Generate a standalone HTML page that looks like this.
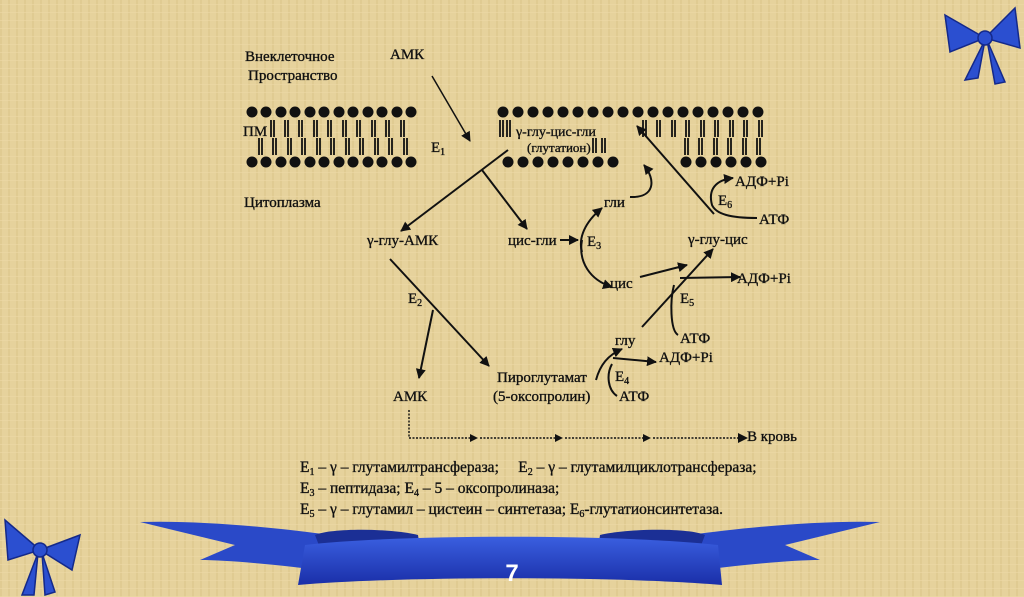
<!DOCTYPE html>
<html><head><meta charset="utf-8">
<style>
html,body{margin:0;padding:0;}
body{width:1024px;height:597px;overflow:hidden;background:#e5d19b;}
svg{display:block;}
text{font-family:"Liberation Serif",serif;fill:#111;stroke:#111;stroke-width:0.35;white-space:pre;}
</style></head><body>
<svg width="1024" height="597" viewBox="0 0 1024 597" xmlns="http://www.w3.org/2000/svg">
<defs>
<pattern id="tex" width="8" height="8" patternUnits="userSpaceOnUse">
<rect width="8" height="8" fill="#e6d29c"/>
<rect x="0" y="0" width="2" height="8" fill="#dcc68c" opacity=".6"/>
<rect x="0" y="4" width="8" height="1" fill="#ecd9a6" opacity=".6"/>
</pattern>
<marker id="ah" viewBox="0 0 10 10" refX="9" refY="5" markerWidth="10" markerHeight="10" markerUnits="userSpaceOnUse" orient="auto">
<path d="M0,0 L10,5 L0,10 z" fill="#111"/></marker>
<linearGradient id="rb" x1="0" y1="0" x2="0" y2="1"><stop offset="0" stop-color="#3a5fe0"/><stop offset="1" stop-color="#1a2fa8"/></linearGradient>
</defs>
<rect width="1024" height="597" fill="url(#tex)"/>

<g id="mem" fill="#111" stroke="#111">
<g stroke="none">
<circle cx="252" cy="112" r="5.5"/><circle cx="266" cy="112" r="5.5"/><circle cx="281" cy="112" r="5.5"/><circle cx="295" cy="112" r="5.5"/><circle cx="310" cy="112" r="5.5"/><circle cx="324" cy="112" r="5.5"/><circle cx="339" cy="112" r="5.5"/><circle cx="353" cy="112" r="5.5"/><circle cx="368" cy="112" r="5.5"/><circle cx="382" cy="112" r="5.5"/><circle cx="397" cy="112" r="5.5"/><circle cx="411" cy="112" r="5.5"/>
<circle cx="252" cy="162" r="5.5"/><circle cx="266" cy="162" r="5.5"/><circle cx="281" cy="162" r="5.5"/><circle cx="295" cy="162" r="5.5"/><circle cx="310" cy="162" r="5.5"/><circle cx="324" cy="162" r="5.5"/><circle cx="339" cy="162" r="5.5"/><circle cx="353" cy="162" r="5.5"/><circle cx="368" cy="162" r="5.5"/><circle cx="382" cy="162" r="5.5"/><circle cx="397" cy="162" r="5.5"/><circle cx="411" cy="162" r="5.5"/>
<circle cx="503" cy="112" r="5.5"/><circle cx="518" cy="112" r="5.5"/><circle cx="533" cy="112" r="5.5"/><circle cx="548" cy="112" r="5.5"/><circle cx="563" cy="112" r="5.5"/><circle cx="578" cy="112" r="5.5"/><circle cx="593" cy="112" r="5.5"/><circle cx="608" cy="112" r="5.5"/><circle cx="623" cy="112" r="5.5"/><circle cx="638" cy="112" r="5.5"/><circle cx="653" cy="112" r="5.5"/><circle cx="668" cy="112" r="5.5"/><circle cx="683" cy="112" r="5.5"/><circle cx="698" cy="112" r="5.5"/><circle cx="713" cy="112" r="5.5"/><circle cx="728" cy="112" r="5.5"/><circle cx="743" cy="112" r="5.5"/><circle cx="758" cy="112" r="5.5"/>
<circle cx="508" cy="162" r="5.5"/><circle cx="523" cy="162" r="5.5"/><circle cx="538" cy="162" r="5.5"/><circle cx="553" cy="162" r="5.5"/><circle cx="568" cy="162" r="5.5"/><circle cx="583" cy="162" r="5.5"/><circle cx="598" cy="162" r="5.5"/><circle cx="613" cy="162" r="5.5"/>
<circle cx="686" cy="162" r="5.5"/><circle cx="701" cy="162" r="5.5"/><circle cx="716" cy="162" r="5.5"/><circle cx="731" cy="162" r="5.5"/><circle cx="746" cy="162" r="5.5"/><circle cx="761" cy="162" r="5.5"/>
</g>
<g stroke-width="1.8" fill="none">
<path d="M271,120v17M274,120v17M285,120v17M288,120v17M299,120v17M302,120v17M314,120v17M317,120v17M328,120v17M331,120v17M343,120v17M346,120v17M357,120v17M360,120v17M372,120v17M375,120v17M386,120v17M389,120v17M401,120v17M404,120v17"/>
<path d="M259,138v17M262,138v17M273,138v17M276,138v17M288,138v17M291,138v17M302,138v17M305,138v17M317,138v17M320,138v17M331,138v17M334,138v17M346,138v17M349,138v17M360,138v17M363,138v17M375,138v17M378,138v17M389,138v17M392,138v17M404,138v17M407,138v17"/>
<path d="M500,120v17M503,120v17M507,120v17M510,120v17"/>
<path d="M593,138v15M596,138v15M602,138v15M605,138v15"/>
<path d="M643,120v17M646,120v17M657,120v17M660,120v17M672,120v17M675,120v17M686,120v17M689,120v17M701,120v17M704,120v17M715,120v17M718,120v17M730,120v17M733,120v17M744,120v17M747,120v17M759,120v17M762,120v17"/>
<path d="M685,138v17M688,138v17M699,138v17M702,138v17M714,138v17M717,138v17M728,138v17M731,138v17M743,138v17M746,138v17M757,138v17M760,138v17"/>
</g>
</g>

<g font-size="15">
<text x="245" y="61">Внеклеточное</text>
<text x="248" y="80">Пространство</text>
<text x="390" y="59">АМК</text>
<text x="243" y="136">ПМ</text>
<text x="431" y="152">E<tspan font-size="10" dy="3">1</tspan></text>
<text x="516" y="136" font-size="14">γ-глу-цис-гли</text>
<text x="527" y="152" font-size="13">(глутатион)</text>
<text x="244" y="207">Цитоплазма</text>
<text x="367" y="245">γ-глу-АМК</text>
<text x="508" y="245">цис-гли</text>
<text x="587" y="246">E<tspan font-size="10" dy="3">3</tspan></text>
<text x="604" y="207">гли</text>
<text x="610" y="288">цис</text>
<text x="688" y="244">γ-глу-цис</text>
<text x="735" y="186">АДФ+Pi</text>
<text x="718" y="205">E<tspan font-size="10" dy="3">6</tspan></text>
<text x="759" y="224">АТФ</text>
<text x="737" y="283">АДФ+Pi</text>
<text x="680" y="303">E<tspan font-size="10" dy="3">5</tspan></text>
<text x="680" y="343">АТФ</text>
<text x="615" y="345">глу</text>
<text x="659" y="362">АДФ+Pi</text>
<text x="615" y="381">E<tspan font-size="10" dy="3">4</tspan></text>
<text x="619" y="401">АТФ</text>
<text x="497" y="382">Пироглутамат</text>
<text x="493" y="401">(5-оксопролин)</text>
<text x="408" y="303">E<tspan font-size="10" dy="3">2</tspan></text>
<text x="393" y="401">АМК</text>
<text x="747" y="441">В кровь</text>
</g>

<g stroke="#111" stroke-width="2" fill="none">
<line x1="432" y1="76" x2="470" y2="141" stroke-width="1.5" marker-end="url(#ah)"/>
<line x1="508" y1="150" x2="401" y2="231" marker-end="url(#ah)"/>
<line x1="482" y1="170" x2="527" y2="229" marker-end="url(#ah)"/>
<line x1="560" y1="240" x2="578" y2="240" marker-end="url(#ah)"/>
<path d="M582,252 C578,238 585,222 602,208" marker-end="url(#ah)"/>
<path d="M582,240 C578,262 590,280 612,287" marker-end="url(#ah)"/>
<path d="M630,197 C655,198 656,180 644,165" marker-end="url(#ah)"/>
<line x1="640" y1="277" x2="687" y2="265" marker-end="url(#ah)"/>
<line x1="714" y1="214" x2="637" y2="126" marker-end="url(#ah)"/>
<path d="M757,218 C730,218 716,214 712,205 C708,190 715,180 733,178" marker-end="url(#ah)"/>
<line x1="642" y1="327" x2="713" y2="249" marker-end="url(#ah)"/>
<path d="M680,278 L740,277" marker-end="url(#ah)"/>
<path d="M678,335 C670,330 670,300 674,285"/>
<line x1="390" y1="259" x2="489" y2="366" marker-end="url(#ah)"/>
<line x1="433" y1="310" x2="419" y2="378" marker-end="url(#ah)"/>
<path d="M596,380 C600,365 608,355 622,349" marker-end="url(#ah)"/>
<line x1="613" y1="358" x2="656" y2="362" marker-end="url(#ah)"/>
<path d="M617,396 C608,390 606,375 612,364"/>
<g stroke-width="1.4" stroke-dasharray="2,1.5">
<path d="M409,410 V438 H470"/>
<line x1="480" y1="438" x2="555" y2="438"/>
<line x1="565" y1="438" x2="643" y2="438"/>
<line x1="653" y1="438" x2="742" y2="438"/>
</g>
</g>
<g fill="#111"><path d="M470,434 l8,4 l-8,4z M555,434 l8,4 l-8,4z M643,434 l8,4 l-8,4z M738,433 l10,5 l-10,5z"/></g>

<g font-size="15.5">
<text x="300" y="472">E<tspan font-size="10" dy="3">1</tspan><tspan dy="-3"> – γ – глутамилтрансфераза;     E</tspan><tspan font-size="10" dy="3">2</tspan><tspan dy="-3"> – γ – глутамилциклотрансфераза;</tspan></text>
<text x="300" y="493">E<tspan font-size="10" dy="3">3</tspan><tspan dy="-3"> – пептидаза; E</tspan><tspan font-size="10" dy="3">4</tspan><tspan dy="-3"> – 5 – оксопролиназа;</tspan></text>
<text x="300" y="514">E<tspan font-size="10" dy="3">5</tspan><tspan dy="-3"> – γ – глутамил – цистеин – синтетаза; E</tspan><tspan font-size="10" dy="3">6</tspan><tspan dy="-3">-глутатионсинтетаза.</tspan></text>
</g>

<!-- ribbon -->
<path d="M140,522 C200,520 280,528 330,535 L335,572 C280,565 230,560 200,560 L235,545 Z" fill="#2a49c8"/>
<path d="M880,522 C820,520 740,528 690,535 L685,572 C740,565 790,560 820,560 L785,545 Z" fill="#2a49c8"/>
<path d="M315,535 C330,528 390,528 418,535 L420,548 L320,548 Z" fill="#1b2f95"/>
<path d="M705,535 C690,528 630,528 600,535 L598,548 L700,548 Z" fill="#1b2f95"/>
<path d="M305,545 C400,534 620,534 718,545 L722,585 C620,576 400,576 298,585 Z" fill="url(#rb)"/>
<text x="512" y="581" text-anchor="middle" style="font-family:'Liberation Sans',sans-serif;font-weight:bold;font-size:24px;fill:#fff;stroke:none">7</text>

<!-- bows -->
<g fill="#2b4fd0" stroke="#14298a" stroke-width="1.5">
<path d="M985,38 L945,15 L950,52 Z"/><path d="M985,38 L1015,8 L1020,48 Z"/>
<path d="M985,40 L965,80 L978,78 Z"/><path d="M987,40 L1005,82 L995,84 Z"/>
<circle cx="985" cy="38" r="7"/>
<path d="M40,550 L5,520 L8,560 Z"/><path d="M40,550 L80,535 L72,570 Z"/>
<path d="M38,553 L22,595 L34,595 Z"/><path d="M42,553 L55,592 L45,595 Z"/>
<circle cx="40" cy="550" r="7"/>
</g>
</svg>
</body></html>
